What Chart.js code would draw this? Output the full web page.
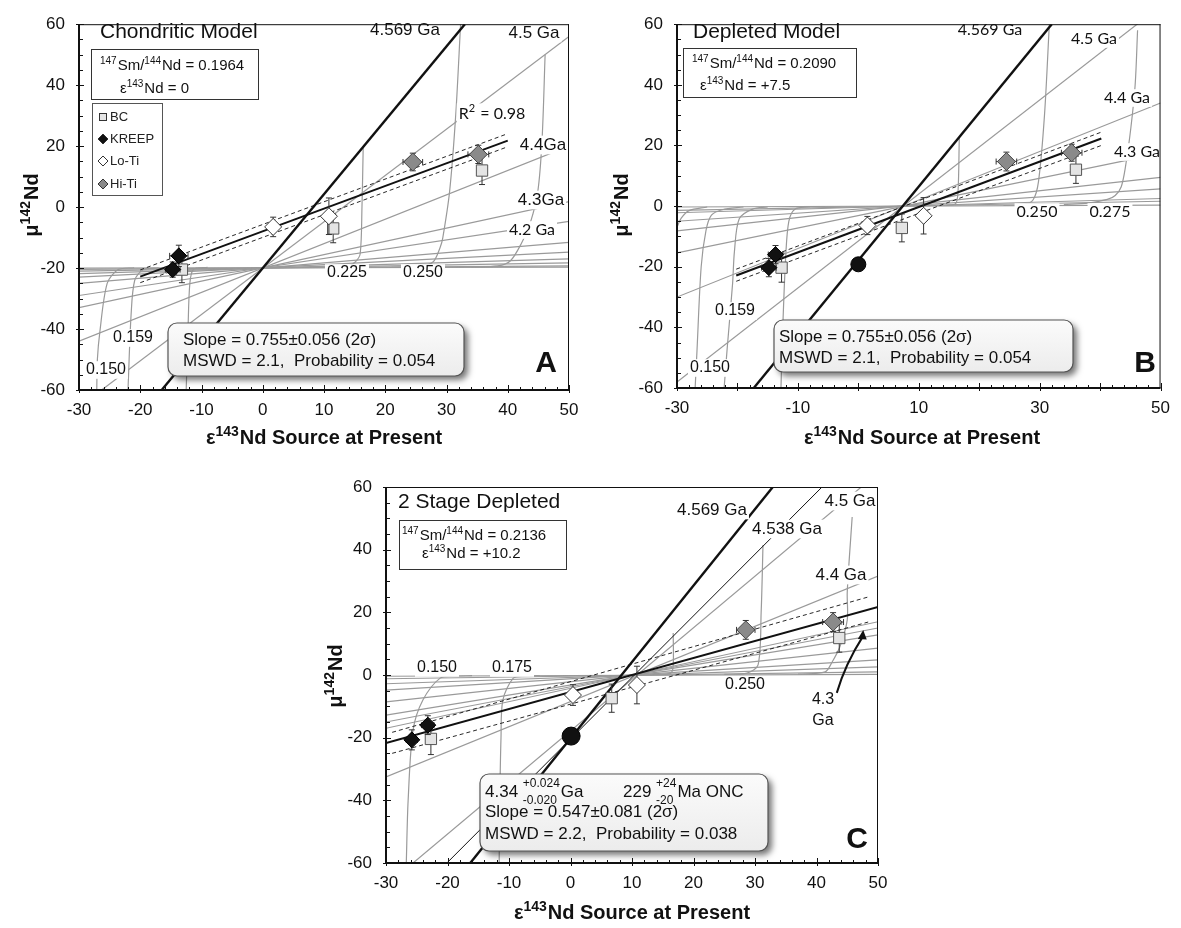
<!DOCTYPE html>
<html>
<head>
<meta charset="utf-8">
<title>μ142Nd vs ε143Nd source at present</title>
<script src="https://cdn.jsdelivr.net/npm/chart.js@4.4.1/dist/chart.umd.min.js"></script>
<style>
  body { margin: 0; background: #fff; }
  #wrap { position: relative; width: 1181px; height: 928px; overflow: hidden; background: #fff; }
  canvas { position: absolute; }
</style>
</head>
<body>
<div id="wrap">
  <canvas id="cA" width="590" height="460" style="left:0;top:0"></canvas>
  <canvas id="cB" width="590" height="460" style="left:590px;top:0"></canvas>
  <canvas id="cC" width="600" height="468" style="left:300px;top:460px"></canvas>
</div>
<script>
// ============================================================
//  Datos (μ142Nd vs ε143Nd)
// ============================================================
const Y_LABELS = [-60, -40, -20, 0, 20, 40, 60];
const X_LABELS_AC = [-30, -20, -10, 0, 10, 20, 30, 40, 50];
const X_LABELS_B = [-30, -10, 10, 30, 50];

// puntos: [x, y, errX, errY]
const bcA    = [[-13.2, -20.5, 0, 4.3], [11.5, -7, 0, 4.7], [35.8, 12, 0, 4.6]];
const kreepA = [[-13.7, -16, 1.5, 3.5], [-14.7, -20.5, 1.2, 2.5]];
const loA    = [[1.7, -6.5, 0, 3.2], [10.8, -3, 0, 6]];
const hiA    = [[24.5, 14.8, 1.6, 2.9], [35.2, 17.3, 1.7, 3]];

const bcB    = [[-12.7, -20.3, 0, 4.8], [7.2, -7.2, 0, 4.6], [36, 12, 0, 4.5]];
const kreepB = [[-13.7, -16, 1.2, 3], [-14.8, -20.3, 1.2, 3]];
const loB    = [[1.5, -6.4, 0, 3], [10.8, -3.2, 0, 6]];
const hiB    = [[24.5, 14.7, 1.7, 3.1], [35.3, 17.6, 1.7, 2.8]];
const dotB   = [[0, -19.2]];

const bcC    = [[-22.7, -20.4, 0, 5], [6.7, -7.4, 0, 4.5], [43.7, 11.8, 0, 4.5]];
const kreepC = [[-25.8, -20.7, 0.9, 3.2], [-23.2, -16, 1, 3]];
const loC    = [[0.4, -6.4, 0, 3.3], [10.8, -3.2, 0, 6]];
const hiC    = [[28.5, 14.4, 1.5, 3], [42.7, 16.9, 1.7, 3]];
const dotC   = [[0.1, -19.5]];

// isocronas grises: [x0, y0, x1, y1]
const isoA = [
  [-26.3, -60, 50, 56], [-30, -44, 50, 20], [-30, -33, 50, 1.8], [-30, -29, 50, -4.7],
  [-30, -25, 50, -11.6], [-30, -23, 50, -14.8], [-30, -21.8, 50, -17], [-30, -21, 50, -18.3],
  [-30, -20.4, 50, -19.3], [-30, -20, 50, -19.7]
];
const isoB = [
  [-30, -58, 50, 66], [-30, -30, 50, 34], [-30, -15.4, 50, 17.4], [-30, -8.2, 50, 9.5],
  [-30, -5, 50, 5.7], [-30, -2.2, 50, 2.5], [-30, -1.4, 50, 1.6], [-30, -0.3, 50, 0.3]
];
const isoC = [
  [-25.6, -60, 48.5, 62], [-30, -32.5, 50, 31.6], [-30, -17, 50, 17], [-30, -15, 50, 15],
  [-30, -12.8, 50, 12.8], [-30, -8.6, 50, 8.6], [-30, -4.8, 50, 4.8], [-30, -2.8, 50, 2.6],
  [-30, -1.2, 50, 1], [-30, -0.4, 50, 0.2]
];

// isocrona 4.569 Ga (negra gruesa) y 4.538 Ga (negra fina, solo C)
const t4569A = [[-16.5, -60], [33, 60]];
const t4569B = [[-17.3, -60], [32, 60]];
const t4569C = [[-16.3, -60], [32.9, 60]];
const t4538C = [[-20.1, -60], [40.9, 60]];

// regresión y envolvente
const regA = [[-20, -22.8], [40, 21.8]];
const upA  = [[-20, -20.6], [40, 24.1]];
const loEnvA = [[-20, -24.8], [40, 19.8]];
const regB = [[-20.2, -22.9], [40.2, 22.3]];
const upB  = [[-20.2, -20.8], [40.2, 24.4]];
const loEnvB = [[-20.2, -24.8], [40.2, 20]];
const regC = [[-30, -21.7], [50, 21.7]];
const upC  = [[-29, -18.3], [48.4, 24.9]];
const loEnvC = [[-29, -25], [48.4, 16.9]];

// curvas de Sm/Nd constante
const curvesA = [
  [[-21, -19.9], [-23.6, -20.5], [-25.4, -25], [-26.6, -41], [-27, -50], [-27.1, -60]],
  [[-17, -19.9], [-19.5, -20.5], [-20.9, -24], [-21.5, -35.5], [-22, -60]],
  [[-9, -19.8], [-11.3, -20.4], [-11.9, -25], [-12.2, -40], [-12.5, -60]],
  [[16.4, 19.7], [16.2, 0], [15.9, -15.4], [15.1, -18], [14, -19.3], [11, -19.8]],
  [[32.3, 60], [31.5, 30], [30.5, 5], [29.4, -10], [29, -13], [27.8, -18], [25.5, -19.4], [21, -19.8]],
  [[46.1, 50], [45.6, 22], [44.9, 5], [43.7, -5], [42.2, -12], [40.4, -17.7], [38.4, -19.3], [34, -19.7]]
];
const curvesB = [
  [[-25, -0.3], [-28, -1.5], [-29.3, -4], [-30, -7]],
  [[-19, -0.3], [-22.5, -1.2], [-24.3, -3], [-25.2, -8], [-26, -20], [-26.7, -48], [-27, -60]],
  [[-15, -0.3], [-17.5, -1], [-19.7, -4.2], [-20.5, -15], [-20.8, -25.5], [-21.7, -47], [-22.2, -60]],
  [[-8, -0.2], [-10.5, -1], [-11.5, -5], [-12, -16], [-12.5, -40], [-12.8, -60]],
  [[16.7, 22.4], [16.5, 5], [16.1, 0.8], [14.5, 0.2]],
  [[31.6, 60], [30.8, 30], [29.8, 8], [28.9, 2], [27.5, 0.6], [24, 0.2]],
  [[46.2, 58], [45.8, 40], [45.1, 26], [44.2, 13], [43.5, 6.4], [42.5, 3.5], [41.2, 2.2], [38, 1], [34, 0.5]]
];
const curvesC = [
  [[-16, -0.2], [-19, -0.4], [-21.2, -1], [-24, -8], [-25.6, -17.6], [-26.4, -40], [-26.7, -60]],
  [[-5, -0.2], [-7.5, -0.4], [-9.3, -1], [-11, -8], [-11.3, -20], [-11.5, -40], [-11.6, -60]],
  [[16.7, 13.4], [16.7, 3], [16.3, 0.6], [14, 0.2]],
  [[31.3, 41.5], [31, 20], [30.5, 3.2], [28.7, 0.6], [25, 0.2]],
  [[45.8, 50.4], [45, 26.5], [45, 17.6], [43.8, 9], [42.5, 4], [41.4, 1], [37, 0.3]]
];

// flecha "4.3 Ga" en C (coordenadas de datos)
const arrowC = [[43.3, -5.7], [45, 4.8], [47.6, 14.4]];

// ============================================================
const FONT = '"Liberation Sans", Arial, Helvetica, sans-serif';
const FONT2 = 'Lato, "Liberation Sans", sans-serif';
const GRAY = '#9a9a9a';

Chart.defaults.font.family = FONT;
Chart.defaults.color = '#111';

const font = (size, bold, fam) => (bold ? 'bold ' : '') + size + 'px ' + (fam || FONT);

function txt(ctx, s, x, y, size, o = {}) {
  ctx.font = font(size, o.bold, o.fam);
  ctx.textAlign = o.align || 'center';
  ctx.textBaseline = 'middle';
  if (o.bg) {
    const w = ctx.measureText(s).width;
    const x0 = o.align === 'left' ? x : x - w / 2;
    ctx.fillStyle = '#fff';
    ctx.fillRect(x0 - 2, y - size * 0.55, w + 4, size * 1.1);
  }
  ctx.fillStyle = o.color || '#111';
  ctx.fillText(s, x, y);
}

// texto con superíndices / subíndices
function rich(ctx, segs, x, y, size, o = {}) {
  const sm = Math.round(size * 0.68);
  let w = 0;
  const parts = segs.map(s => {
    const p = typeof s === 'string' ? { t: s } : Object.assign({}, s);
    if (p.t !== undefined) { ctx.font = font(size, o.bold, o.fam); p.w = ctx.measureText(p.t).width; }
    else {
      ctx.font = font(sm, o.bold, o.fam);
      p.w = Math.max(p.sup ? ctx.measureText(p.sup).width : 0, p.sub ? ctx.measureText(p.sub).width : 0) + 1;
    }
    w += p.w;
    return p;
  });
  let cx = o.align === 'center' ? x - w / 2 : x;
  if (o.bg) { ctx.fillStyle = '#fff'; ctx.fillRect(cx - 2, y - size * 0.6, w + 4, size * 1.2); }
  const base = y + size * 0.36;
  ctx.textAlign = 'left';
  ctx.textBaseline = 'alphabetic';
  ctx.fillStyle = o.color || '#111';
  parts.forEach(p => {
    if (p.t !== undefined) { ctx.font = font(size, o.bold, o.fam); ctx.fillText(p.t, cx, base); }
    else {
      ctx.font = font(sm, o.bold, o.fam);
      const both = p.sup && p.sub;
      if (p.sup) ctx.fillText(p.sup, cx, base - size * (both ? 0.6 : 0.4));
      if (p.sub) ctx.fillText(p.sub, cx, base + size * (both ? 0.38 : 0.2));
    }
    cx += p.w;
  });
  return w;
}

function paramBox(ctx, x, y, w, h, lines) {
  ctx.fillStyle = '#fff';
  ctx.fillRect(x, y, w, h);
  ctx.strokeStyle = '#333';
  ctx.lineWidth = 1;
  ctx.strokeRect(x + 0.5, y + 0.5, w, h);
  lines.forEach(l => rich(ctx, l[0], l[1], l[2], 15));
}

function slopeBox(ctx, x, y, w, h) {
  const r = 9;
  const path = () => {
    ctx.beginPath();
    ctx.moveTo(x + r, y);
    ctx.arcTo(x + w, y, x + w, y + h, r);
    ctx.arcTo(x + w, y + h, x, y + h, r);
    ctx.arcTo(x, y + h, x, y, r);
    ctx.arcTo(x, y, x + w, y, r);
    ctx.closePath();
  };
  ctx.save();
  ctx.shadowColor = 'rgba(0,0,0,0.55)';
  ctx.shadowBlur = 6;
  ctx.shadowOffsetX = 4;
  ctx.shadowOffsetY = 4;
  path();
  const g = ctx.createLinearGradient(0, y, 0, y + h);
  g.addColorStop(0, '#fbfbfb');
  g.addColorStop(1, '#ececec');
  ctx.fillStyle = g;
  ctx.fill();
  ctx.restore();
  path();
  ctx.strokeStyle = '#555';
  ctx.lineWidth = 1.2;
  ctx.stroke();
}

function axisTitles(ctx, yx, yy, xx, xy) {
  ctx.save();
  ctx.translate(yx, yy);
  ctx.rotate(-Math.PI / 2);
  rich(ctx, ['μ', { sup: '142' }, 'Nd'], 0, 0, 20, { bold: true, align: 'center' });
  ctx.restore();
  rich(ctx, ['ε', { sup: '143' }, 'Nd Source at Present'], xx, xy, 20, { bold: true, align: 'center' });
}

const SM = v => [{ sup: '147' }, 'Sm/', { sup: '144' }, 'Nd = ' + v];
const EPS = v => ['ε', { sup: '143' }, 'Nd = ' + v];

function legendMark(ctx, kind, x, y) {
  ctx.lineWidth = 1;
  ctx.strokeStyle = '#333';
  if (kind === 'bc') {
    ctx.fillStyle = '#e6e6e6';
    ctx.fillRect(x - 4, y - 4, 8, 8);
    ctx.strokeRect(x - 3.5, y - 3.5, 7, 7);
    return;
  }
  ctx.beginPath();
  ctx.moveTo(x, y - 5); ctx.lineTo(x + 5, y); ctx.lineTo(x, y + 5); ctx.lineTo(x - 5, y); ctx.closePath();
  ctx.fillStyle = kind === 'kreep' ? '#111' : kind === 'lo' ? '#fff' : '#8a8a8a';
  ctx.fill();
  ctx.stroke();
}

// ------------------------------------------------------------
// Anotaciones de cada panel (coordenadas en píxeles del canvas)
// ------------------------------------------------------------
function drawA(ctx) {
  txt(ctx, '4.569 Ga', 405, 30, 17, { bg: true });
  txt(ctx, '4.5 Ga', 534, 33, 17, { bg: true });
  rich(ctx, ['R', { sup: '2' }, ' = 0.98'], 492, 113, 16, { align: 'center', bg: true, fam: FONT2 });
  txt(ctx, '4.4Ga', 543, 145, 17, { bg: true });
  txt(ctx, '4.3Ga', 541, 200, 17, { bg: true });
  txt(ctx, '4.2 Ga', 532, 230, 16, { bg: true, fam: FONT2 });
  txt(ctx, '0.225', 347, 273, 16, { bg: true });
  txt(ctx, '0.250', 423, 273, 16, { bg: true });
  txt(ctx, '0.159', 133, 338, 16, { bg: true });
  txt(ctx, '0.150', 106, 370, 16, { bg: true });

  txt(ctx, 'Chondritic Model', 100, 32, 21, { align: 'left' });
  paramBox(ctx, 91, 49, 167, 50, [[SM('0.1964'), 100, 65], [EPS('0'), 120, 88]]);

  // leyenda
  ctx.fillStyle = '#fff';
  ctx.fillRect(92, 103, 70, 92);
  ctx.strokeStyle = '#555';
  ctx.lineWidth = 1;
  ctx.strokeRect(92.5, 103.5, 70, 92);
  [['bc', 'BC', 117], ['kreep', 'KREEP', 139], ['lo', 'Lo-Ti', 161], ['hi', 'Hi-Ti', 184]].forEach(e => {
    legendMark(ctx, e[0], 103, e[2]);
    txt(ctx, e[1], 110, e[2], 13, { align: 'left', color: '#222' });
  });

  slopeBox(ctx, 168, 323, 296, 53);
  txt(ctx, 'Slope = 0.755±0.056 (2σ)', 183, 340, 17, { align: 'left' });
  txt(ctx, 'MSWD = 2.1,  Probability = 0.054', 183, 361, 17, { align: 'left' });
  txt(ctx, 'A', 546, 364, 30, { bold: true });
  axisTitles(ctx, 31, 205, 324, 437);
}

function drawB(ctx) {
  txt(ctx, '4.569 Ga', 400, 30, 16, { bg: true, fam: FONT2 });
  txt(ctx, '4.5 Ga', 504, 39, 16, { bg: true, fam: FONT2 });
  txt(ctx, '4.4 Ga', 537, 98, 16, { bg: true, fam: FONT2 });
  txt(ctx, '4.3 Ga', 547, 152, 16, { bg: true, fam: FONT2 });
  txt(ctx, '0.250', 447, 212, 16, { bg: true, fam: FONT2 });
  txt(ctx, '0.275', 520, 212, 16, { bg: true, fam: FONT2 });
  txt(ctx, '0.159', 145, 311, 16, { bg: true });
  txt(ctx, '0.150', 120, 368, 16, { bg: true });

  txt(ctx, 'Depleted Model', 103, 32, 21, { align: 'left' });
  paramBox(ctx, 93, 48, 173, 49, [[SM('0.2090'), 102, 63], [EPS('+7.5'), 110, 85]]);

  slopeBox(ctx, 184, 320, 299, 52);
  txt(ctx, 'Slope = 0.755±0.056 (2σ)', 189, 337, 17, { align: 'left' });
  txt(ctx, 'MSWD = 2.1,  Probability = 0.054', 189, 358, 17, { align: 'left' });
  txt(ctx, 'B', 555, 364, 30, { bold: true });
  axisTitles(ctx, 31, 205, 332, 437);
}

function drawC(ctx, chart) {
  txt(ctx, '4.569 Ga', 412, 50, 17, { bg: true });
  txt(ctx, '4.538 Ga', 487, 69, 17, { bg: true });
  txt(ctx, '4.5 Ga', 550, 41, 17, { bg: true });
  txt(ctx, '4.4 Ga', 541, 115, 17, { bg: true });
  txt(ctx, '0.250', 445, 225, 16, { bg: true });
  txt(ctx, '0.150', 137, 208, 16, { bg: true });
  txt(ctx, '0.175', 212, 208, 16, { bg: true });
  txt(ctx, '4.3', 523, 240, 16);
  txt(ctx, 'Ga', 523, 261, 16);

  // flecha curva hacia la isocrona 4.3 Ga
  const { x: xs, y: ys } = chart.scales;
  const P = arrowC.map(p => [xs.getPixelForValue(p[0]), ys.getPixelForValue(p[1])]);
  ctx.strokeStyle = '#111';
  ctx.lineWidth = 2;
  ctx.beginPath();
  ctx.moveTo(P[0][0], P[0][1]);
  ctx.quadraticCurveTo(P[1][0] - 2, P[1][1] + 4, P[2][0], P[2][1] + 6);
  ctx.stroke();
  ctx.fillStyle = '#111';
  ctx.beginPath();
  ctx.moveTo(P[2][0], P[2][1]);
  ctx.lineTo(P[2][0] - 5.5, P[2][1] + 9);
  ctx.lineTo(P[2][0] + 3.5, P[2][1] + 9.5);
  ctx.closePath();
  ctx.fill();

  txt(ctx, '2 Stage Depleted', 98, 42, 21, { align: 'left' });
  paramBox(ctx, 99, 60, 167, 49, [[SM('0.2136'), 102, 75], [EPS('+10.2'), 122, 93]]);

  slopeBox(ctx, 180, 314, 288, 77);
  rich(ctx, ['4.34 ', { sup: '+0.024', sub: '-0.020' }, 'Ga'], 185, 331, 17);
  rich(ctx, ['229 ', { sup: '+24', sub: '-20' }, 'Ma ONC'], 323, 331, 17);
  txt(ctx, 'Slope = 0.547±0.081 (2σ)', 185, 352, 17, { align: 'left' });
  txt(ctx, 'MSWD = 2.2,  Probability = 0.038', 185, 374, 17, { align: 'left' });
  txt(ctx, 'C', 557, 380, 30, { bold: true });
  axisTitles(ctx, 35, 216, 332, 452);
}

// ------------------------------------------------------------
// Plugins
// ------------------------------------------------------------
const errPlugin = {
  id: 'err',
  beforeDatasetDraw(chart, args) {
    const ds = chart.data.datasets[args.index];
    if (!ds.err) return;
    const { x: xs, y: ys } = chart.scales;
    const ctx = chart.ctx;
    const seg = (a, b, c, d) => { ctx.beginPath(); ctx.moveTo(a, b); ctx.lineTo(c, d); ctx.stroke(); };
    ctx.save();
    ctx.strokeStyle = '#333';
    ctx.lineWidth = 1;
    ds.err.forEach(p => {
      const px = xs.getPixelForValue(p[0]), py = ys.getPixelForValue(p[1]);
      if (p[3]) {
        const y1 = ys.getPixelForValue(p[1] + p[3]), y2 = ys.getPixelForValue(p[1] - p[3]);
        seg(px, y1, px, y2); seg(px - 3, y1, px + 3, y1); seg(px - 3, y2, px + 3, y2);
      }
      if (p[2]) {
        const x1 = xs.getPixelForValue(p[0] - p[2]), x2 = xs.getPixelForValue(p[0] + p[2]);
        seg(x1, py, x2, py); seg(x1, py - 3, x1, py + 3); seg(x2, py - 3, x2, py + 3);
      }
    });
    ctx.restore();
  }
};

const framePlugin = {
  id: 'frame',
  afterDraw(chart) {
    const { ctx, chartArea: a, scales: { x, y } } = chart;
    const seg = (p, q, r, s) => { ctx.beginPath(); ctx.moveTo(p, q); ctx.lineTo(r, s); ctx.stroke(); };
    ctx.save();
    ctx.strokeStyle = '#111';
    ctx.lineWidth = 1;
    seg(a.left, a.top + 0.5, a.right, a.top + 0.5);
    seg(a.right - 0.5, a.top, a.right - 0.5, a.bottom);
    ctx.lineWidth = 2;
    seg(a.left, a.top, a.left, a.bottom + 1);
    seg(a.left - 1, a.bottom, a.right, a.bottom);
    ctx.lineWidth = 1;
    for (let v = -60; v <= 60; v += 5) {
      const py = Math.round(y.getPixelForValue(v)) + 0.5;
      const major = v % 20 === 0;
      seg(a.left - (major ? 3 : 0), py, a.left + (major ? 5 : 4), py);
    }
    for (let v = -30; v <= 50; v += 2) {
      const px = Math.round(x.getPixelForValue(v)) + 0.5;
      const major = v % 10 === 0;
      seg(px, a.bottom + (major ? 3 : 0), px, a.bottom - (major ? 5 : 3));
    }
    ctx.restore();
  }
};

const annPlugin = draw => ({
  id: 'ann',
  afterDatasetsDraw(chart) {
    const ctx = chart.ctx;
    ctx.save();
    draw(ctx, chart);
    ctx.restore();
  }
});

// ------------------------------------------------------------
// Construcción de datasets
// ------------------------------------------------------------
const xy = pts => pts.map(p => ({ x: p[0], y: p[1] }));

function lineDs(pts, color, width, order, extra = {}) {
  return Object.assign({
    data: xy(pts), showLine: true, pointRadius: 0, pointHoverRadius: 0,
    borderColor: color, borderWidth: width, fill: false, tension: 0, order
  }, extra);
}

function ptDs(label, pts, style, r, fill, stroke, order) {
  return {
    label, data: xy(pts), err: pts, pointStyle: style, pointRadius: r, pointHoverRadius: r,
    backgroundColor: fill, borderColor: stroke, borderWidth: 1, showLine: false, order
  };
}

function buildSets(c) {
  const ds = [];
  c.iso.forEach(s => ds.push(lineDs([[s[0], s[1]], [s[2], s[3]]], GRAY, 1.2, 40)));
  c.curves.forEach(cv => ds.push(lineDs(cv, GRAY, 1.2, 40, { tension: 0.3 })));
  if (c.thin) ds.push(lineDs(c.thin, '#111', 1, 30));
  ds.push(lineDs(c.thick, '#111', 2.4, 30));
  ds.push(lineDs(c.up, '#111', 0.9, 25, { borderDash: [4, 3] }));
  ds.push(lineDs(c.lo, '#111', 0.9, 25, { borderDash: [4, 3] }));
  ds.push(lineDs(c.reg, '#111', 2, 20));
  ds.push(ptDs('BC', c.bc, 'rect', 8, '#e4e4e4', '#555', 6));
  ds.push(ptDs('Lo-Ti', c.lot, 'rectRot', 8.5, '#fff', '#333', 5));
  ds.push(ptDs('Hi-Ti', c.hit, 'rectRot', 9, '#8a8a8a', '#444', 4));
  ds.push(ptDs('KREEP', c.kreep, 'rectRot', 8, '#111', '#000', 3));
  if (c.dot) ds.push(ptDs('', c.dot, 'circle', c.dotR, '#111', '#000', 2));
  return ds;
}

function makeChart(p) {
  return new Chart(document.getElementById(p.id), {
    type: 'scatter',
    data: { datasets: buildSets(p) },
    options: {
      responsive: false,
      animation: false,
      events: [],
      layout: { padding: { left: 0, top: p.padTop, right: p.padRight, bottom: 0 } },
      plugins: { legend: { display: false }, tooltip: { enabled: false } },
      scales: {
        x: {
          type: 'linear', min: -30, max: 50,
          grid: { display: false, drawTicks: false }, border: { display: false },
          ticks: {
            stepSize: 10, autoSkip: false, maxRotation: 0, padding: 10,
            font: { size: 17 }, color: '#111',
            callback: v => p.xLabels.includes(v) ? String(v) : ''
          },
          afterFit: s => { s.height = p.xH; }
        },
        y: {
          type: 'linear', min: -60, max: 60,
          grid: { display: false, drawTicks: false }, border: { display: false },
          ticks: {
            stepSize: 20, autoSkip: false, padding: 14,
            font: { size: 17 }, color: '#111',
            callback: v => Y_LABELS.includes(v) ? String(v) : ''
          },
          afterFit: s => { s.width = p.yW; }
        }
      }
    },
    plugins: [errPlugin, annPlugin(p.draw), framePlugin]
  });
}

makeChart({
  id: 'cA', padTop: 13, padRight: 21, yW: 79, xH: 70, xLabels: X_LABELS_AC,
  iso: isoA, curves: curvesA, thick: t4569A, reg: regA, up: upA, lo: loEnvA,
  bc: bcA, lot: loA, hit: hiA, kreep: kreepA, draw: drawA
});
makeChart({
  id: 'cB', padTop: 12, padRight: 13, yW: 87, xH: 72, xLabels: X_LABELS_B,
  iso: isoB, curves: curvesB, thick: t4569B, reg: regB, up: upB, lo: loEnvB,
  bc: bcB, lot: loB, hit: hiB, kreep: kreepB, dot: dotB, dotR: 7.5, draw: drawB
});
makeChart({
  id: 'cC', padTop: 27, padRight: 22, yW: 86, xH: 65, xLabels: X_LABELS_AC,
  iso: isoC, curves: curvesC, thick: t4569C, thin: t4538C, reg: regC, up: upC, lo: loEnvC,
  bc: bcC, lot: loC, hit: hiC, kreep: kreepC, dot: dotC, dotR: 9, draw: drawC
});
</script>
</body>
</html>
